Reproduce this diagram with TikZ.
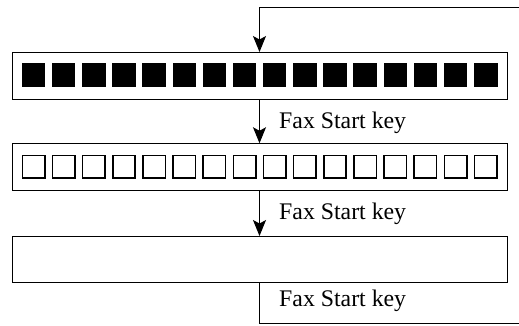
\documentclass[tikz,border=0pt]{standalone}
\usepackage{fontspec}
\setmainfont{Liberation Serif}
\usetikzlibrary{arrows.meta}
\begin{document}
\begin{tikzpicture}[x=1pt,y=-1pt,
  panel/.style={draw, line width=1pt, minimum width=495pt, inner sep=0pt, outer sep=0pt},
  flow/.style={line width=1pt, -{Stealth[length=16pt,width=13pt,inset=3.5pt]}},
  plain/.style={line width=1pt},
  lbl/.style={anchor=west, inner sep=0pt, font=\fontsize{23.8}{26}\selectfont},
  full/.style={fill=black, draw=none, minimum size=23.5pt, inner sep=0pt, outer sep=0pt},
  empty/.style={draw, line width=1.6pt, minimum size=22.4pt, inner sep=0pt, outer sep=0pt}]
\useasboundingbox (0,0) rectangle (519,325);
\node[panel, minimum height=47pt] (b1) at (259.5,75.5) {};
\node[panel, minimum height=47.5pt] (b2) at (259.5,167) {};
\node[panel, minimum height=46pt] (b3) at (259.5,259) {};
\foreach \i in {0,...,15} {
  \node[full] (f\i) at ({33.5+30.15*\i},75) {};
  \node[empty] (e\i) at ({33.5+30.15*\i},166.5) {};
}
\coordinate (tr) at (519,7);
\coordinate (tl) at (259.5,7);
\coordinate (bl) at (259.5,323.5);
\coordinate (br) at (519,323.5);
\draw[flow] (tr) -- (tl) -- (b1.north);
\draw[flow] (b1.south) -- (b2.north);
\draw[flow] (b2.south) -- (b3.north);
\draw[plain] (b3.south) -- (bl) -- (br);
\node[lbl] (l1) at (279,123) {Fax Start key};
\node[lbl] (l2) at (279,214) {Fax Start key};
\node[lbl] (l3) at (279,301) {Fax Start key};
\end{tikzpicture}
\end{document}
